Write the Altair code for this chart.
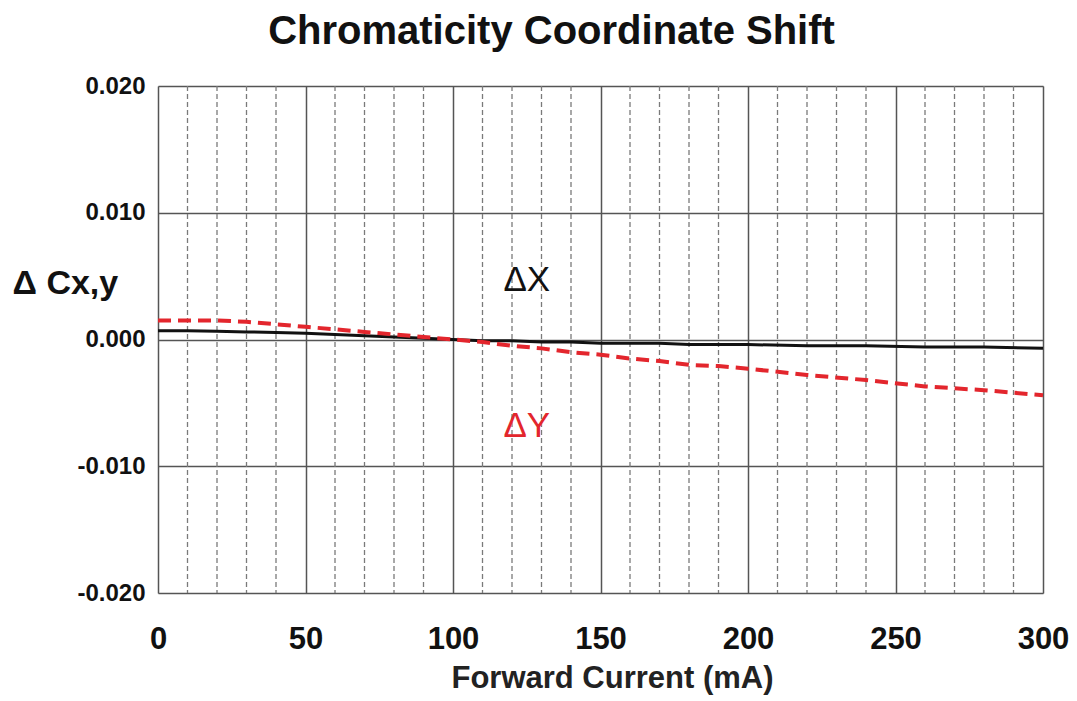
import altair as alt
import pandas as pd

# ---- data ----
current = [0, 10, 20, 30, 40, 50, 60, 70, 80, 90, 100, 110, 120, 130, 140, 150,
           160, 170, 180, 190, 200, 220, 240, 260, 280, 300]
delta_x = [0.0007, 0.0007, 0.00065, 0.0006, 0.00055, 0.0005, 0.0004, 0.0003, 0.0002, 0.0001,
           0.0, -0.0001, -0.0001, -0.0002, -0.0002, -0.0003, -0.0003, -0.0003, -0.0004, -0.0004,
           -0.0004, -0.0005, -0.0005, -0.0006, -0.0006, -0.0007]
delta_y = [0.0015, 0.0015, 0.0015, 0.0014, 0.0012, 0.0010, 0.0008, 0.0006, 0.0004, 0.0002,
           0.0, -0.0002, -0.0005, -0.0007, -0.0010, -0.0012, -0.0015, -0.0017, -0.0020, -0.0021,
           -0.0023, -0.0028, -0.0032, -0.0037, -0.0040, -0.0044]

x_ticks = [0, 50, 100, 150, 200, 250, 300]
y_ticks = [-0.02, -0.01, 0.0, 0.01, 0.02]
minor_x = [v for v in range(10, 300, 10) if v % 50 != 0]

labels = ["ΔX", "ΔY"]
label_x = [125, 125]
label_y = [0.0047, -0.0068]
label_color = ["#111111", "#e3262d"]

df = pd.DataFrame({"current": current, "dx": delta_x, "dy": delta_y})
df_minor = pd.DataFrame({"m": minor_x})
df_lab = pd.DataFrame({"t": labels, "x": label_x, "y": label_y, "c": label_color})

FONT = "Liberation Sans"

xs = alt.Scale(domain=[0, 300], nice=False, zero=False)
ys = alt.Scale(domain=[-0.02, 0.02], nice=False, zero=False)

x_axis = alt.Axis(values=x_ticks, title="Forward Current (mA)", grid=True, gridColor="#555555",
                  gridWidth=1.5, ticks=False, domain=False, labelFont=FONT, labelFontWeight="bold",
                  labelFontSize=31, labelColor="#111111", labelPadding=31, labelFlush=False,
                  titleFont=FONT, titleFontWeight="bold", titleFontSize=31, titleColor="#222222",
                  titleBaseline="middle", titleY=85, titleX=454, titleAnchor="start", titleAlign="center")
y_axis = alt.Axis(values=y_ticks, title="Δ Cx,y", grid=True, gridColor="#555555", gridWidth=1.5,
                  ticks=False, domain=False, labelFont=FONT, labelFontWeight="bold", labelFontSize=24,
                  labelColor="#111111", labelPadding=13,
                  labelExpr="replace(format(datum.value, '.3f'), '\u2212', '-')",
                  titleFont=FONT, titleFontWeight="bold", titleFontSize=34, titleColor="#111111",
                  titleAngle=0, titleAlign="left", titleBaseline="middle", titleX=-146, titleY=197)

minor = alt.Chart(df_minor).mark_rule(color="#7a7a7a", strokeDash=[5, 3], strokeWidth=1.3).encode(
    x=alt.X("m:Q", scale=xs, axis=x_axis)
)

line_x = alt.Chart(df).mark_line(color="#111111", strokeWidth=3).encode(
    x=alt.X("current:Q", scale=xs, axis=x_axis),
    y=alt.Y("dx:Q", scale=ys, axis=y_axis),
)
line_y = alt.Chart(df).mark_line(color="#e3262d", strokeWidth=4, strokeDash=[13, 7]).encode(
    x=alt.X("current:Q", scale=xs, axis=x_axis),
    y=alt.Y("dy:Q", scale=ys, axis=y_axis),
)
text = alt.Chart(df_lab).mark_text(font=FONT, fontSize=35, fontWeight="normal", align="center",
                                   baseline="middle").encode(
    x=alt.X("x:Q", scale=xs, axis=x_axis),
    y=alt.Y("y:Q", scale=ys, axis=y_axis),
    text="t:N",
    color=alt.Color("c:N", scale=None),
)

chart = alt.layer(minor, line_x, line_y, text).properties(
    width=885, height=507,
    title=alt.TitleParams("Chromaticity Coordinate Shift", font=FONT, fontSize=40, fontWeight="bold",
                          color="#111111", anchor="middle", frame="group", dx=-49, offset=22),
    autosize=alt.AutoSizeParams(type="none"),
    padding={"left": 150, "top": 78, "right": 26, "bottom": 108},
).configure_view(stroke="#222222", strokeWidth=2).configure(background="white")

chart.save("out.html", embed_options={"renderer": "svg", "actions": False})
